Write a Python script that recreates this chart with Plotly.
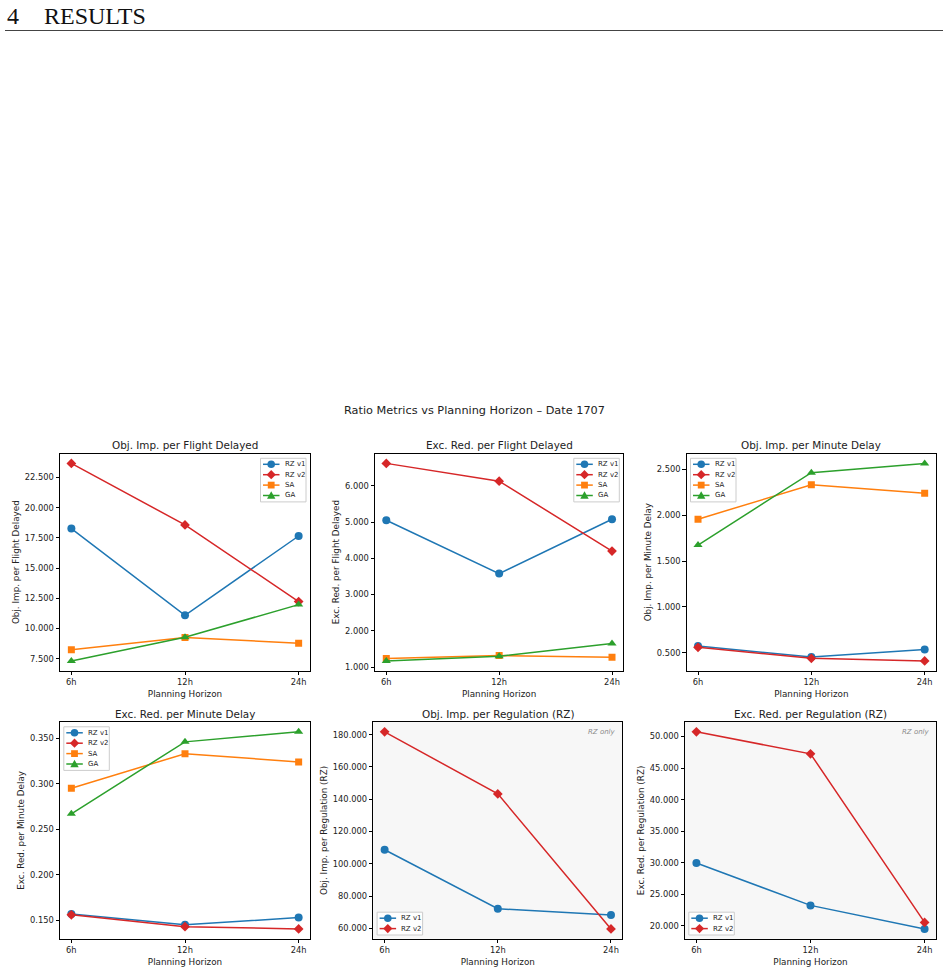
import plotly.graph_objects as go

W, H = 948, 972

# ---------------- data ----------------
horizons = ["6h", "12h", "24h"]

# Obj. Imp. per Flight Delayed
ofd_rz1 = [18.26, 11.08, 17.65]
ofd_rz2 = [23.66, 18.57, 12.22]
ofd_sa = [8.23, 9.25, 8.78]
ofd_ga = [7.31, 9.27, 11.97]

# Exc. Red. per Flight Delayed
efd_rz1 = [5.05, 3.58, 5.08]
efd_rz2 = [6.62, 6.13, 4.20]
efd_sa = [1.24, 1.32, 1.27]
efd_ga = [1.17, 1.30, 1.65]

# Obj. Imp. per Minute Delay
omd_rz1 = [0.573, 0.452, 0.536]
omd_rz2 = [0.558, 0.438, 0.410]
omd_sa = [1.957, 2.332, 2.241]
omd_ga = [1.675, 2.464, 2.566]

# Exc. Red. per Minute Delay
emd_rz1 = [0.157, 0.145, 0.153]
emd_rz2 = [0.156, 0.143, 0.1405]
emd_sa = [0.295, 0.333, 0.324]
emd_ga = [0.267, 0.346, 0.357]

# Obj. Imp. per Regulation (RZ)
oreg_rz1 = [108.7, 72.2, 68.3]
oreg_rz2 = [181.7, 143.3, 59.7]

# Exc. Red. per Regulation (RZ)
ereg_rz1 = [29.97, 23.26, 19.53]
ereg_rz2 = [50.74, 47.26, 20.57]

panel_titles = [
    "Obj. Imp. per Flight Delayed",
    "Exc. Red. per Flight Delayed",
    "Obj. Imp. per Minute Delay",
    "Exc. Red. per Minute Delay",
    "Obj. Imp. per Regulation (RZ)",
    "Exc. Red. per Regulation (RZ)",
]
panel_ylabels = panel_titles
panel_series = [
    [("RZ v1", ofd_rz1), ("RZ v2", ofd_rz2), ("SA", ofd_sa), ("GA", ofd_ga)],
    [("RZ v1", efd_rz1), ("RZ v2", efd_rz2), ("SA", efd_sa), ("GA", efd_ga)],
    [("RZ v1", omd_rz1), ("RZ v2", omd_rz2), ("SA", omd_sa), ("GA", omd_ga)],
    [("RZ v1", emd_rz1), ("RZ v2", emd_rz2), ("SA", emd_sa), ("GA", emd_ga)],
    [("RZ v1", oreg_rz1), ("RZ v2", oreg_rz2)],
    [("RZ v1", ereg_rz1), ("RZ v2", ereg_rz2)],
]
x_label = "Planning Horizon"
suptitle = "Ratio Metrics vs Planning Horizon \u2013 Date 1707"
rz_only_note = "RZ only"

# ---------------- styles / layout ----------------
styles = {
    "RZ v1": dict(color="#1f77b4", symbol="circle", size=8),
    "RZ v2": dict(color="#d62728", symbol="diamond", size=7.5),
    "SA": dict(color="#ff7f0e", symbol="square", size=7),
    "GA": dict(color="#2ca02c", symbol="triangle-up", size=8),
}
dticks = [2.5, 1, 0.5, 0.05, 20, 5]
legend_corner = ["ur", "ur", "ul", "ul", "ll", "ll"]
shaded = [False, False, False, False, True, True]
# axes boxes in pixels: left, right, top, bottom
boxes = [
    (60, 310, 453.5, 670.8),
    (375, 623.3, 453.5, 670.8),
    (686.7, 936, 453.5, 670.8),
    (60, 310, 722, 938.8),
    (373.3, 622.3, 722, 938.8),
    (685, 936, 722, 938.8),
]

FONT = "DejaVu Sans"
TXT = "#222222"


def px(x):
    return x / W


def py(y):
    return 1 - y / H


fig = go.Figure()
shapes = []
annotations = []
layout = {}

for i, series in enumerate(panel_series):
    n = "" if i == 0 else str(i + 1)
    xa, ya = "x" + n, "y" + n
    L, R, T, B = boxes[i]
    allv = [v for _, vals in series for v in vals]
    lo, hi = min(allv), max(allv)
    pad = 0.05 * (hi - lo)

    for name, vals in series:
        st = styles[name]
        fig.add_trace(go.Scatter(
            x=horizons, y=vals, mode="lines+markers", name=name,
            xaxis=xa, yaxis=ya, showlegend=False,
            line=dict(color=st["color"], width=1.5),
            marker=dict(symbol=st["symbol"], size=st["size"], color=st["color"]),
        ))

    axis_common = dict(
        showline=True, mirror=True, linecolor="black", linewidth=1,
        ticks="outside", ticklen=3.5, tickwidth=1, tickcolor="black",
        showgrid=False, zeroline=False,
        tickfont=dict(family=FONT, size=8.3, color=TXT),
    )
    layout["xaxis" + n] = dict(
        axis_common, domain=[px(L), px(R)], anchor=ya,
        type="category", range=[-0.1, 2.1],
        title=dict(text=x_label, font=dict(family=FONT, size=8.8, color=TXT), standoff=4),
    )
    layout["yaxis" + n] = dict(
        axis_common, domain=[py(B), py(T)], anchor=xa,
        range=[lo - pad, hi + pad], tick0=0, dtick=dticks[i], tickformat=".3f",
        title=dict(text=panel_ylabels[i], font=dict(family=FONT, size=8.8, color=TXT), standoff=3),
    )

    # subplot title
    annotations.append(dict(
        text=panel_titles[i], xref="paper", yref="paper", x=px((L + R) / 2), y=py(T - 8),
        xanchor="center", yanchor="middle", showarrow=False,
        font=dict(family=FONT, size=10.4, color=TXT),
    ))

    if shaded[i]:
        shapes.append(dict(type="rect", xref=xa + " domain", yref=ya + " domain",
                           x0=0, x1=1, y0=0, y1=1, fillcolor="#f7f7f7",
                           line=dict(width=0), layer="below"))
        annotations.append(dict(
            text="<i>" + rz_only_note + "</i>", xref="paper", yref="paper",
            x=px(R - 4), y=py(T + 10), xanchor="right", yanchor="middle", showarrow=False,
            font=dict(family=FONT, size=7, color="#8c8c8c"),
        ))

    # legend (matplotlib style, compact)
    nent = len(series)
    row = 10.4
    lw, lh = 45.5, nent * row + 2.0
    corner = legend_corner[i]
    lx = (R - 4 - lw) if corner[1] == "r" else (L + 3.8)
    ly = (T + 4.8) if corner[0] == "u" else (B - 3.8 - lh)
    shapes.append(dict(type="rect", xref="paper", yref="paper",
                       x0=px(lx), x1=px(lx + lw), y0=py(ly), y1=py(ly + lh),
                       fillcolor="rgba(255,255,255,0.85)", line=dict(color="#cccccc", width=1),
                       layer="above"))
    for k, (name, _) in enumerate(series):
        st = styles[name]
        cy = ly + 6 + k * row
        shapes.append(dict(type="line", xref="paper", yref="paper",
                           x0=px(lx + 2.5), x1=px(lx + 19), y0=py(cy), y1=py(cy),
                           line=dict(color=st["color"], width=1.5), layer="above"))
        cx = lx + 10.7
        c = st["color"]
        if st["symbol"] == "circle":
            r = 3.8
            shapes.append(dict(type="circle", xref="paper", yref="paper",
                               x0=px(cx - r), x1=px(cx + r), y0=py(cy + r), y1=py(cy - r),
                               fillcolor=c, line=dict(width=0), layer="above"))
        elif st["symbol"] == "square":
            r = 3.4
            shapes.append(dict(type="rect", xref="paper", yref="paper",
                               x0=px(cx - r), x1=px(cx + r), y0=py(cy + r), y1=py(cy - r),
                               fillcolor=c, line=dict(width=0), layer="above"))
        elif st["symbol"] == "diamond":
            a = 4.6
            pts = [(cx, cy - a), (cx + a, cy), (cx, cy + a), (cx - a, cy)]
            path = "M " + " L ".join(f"{px(x):.5f},{py(y):.5f}" for x, y in pts) + " Z"
            shapes.append(dict(type="path", xref="paper", yref="paper", path=path,
                               fillcolor=c, line=dict(width=0), layer="above"))
        else:
            a = 4.2
            pts = [(cx, cy - a), (cx + a, cy + a * 0.75), (cx - a, cy + a * 0.75)]
            path = "M " + " L ".join(f"{px(x):.5f},{py(y):.5f}" for x, y in pts) + " Z"
            shapes.append(dict(type="path", xref="paper", yref="paper", path=path,
                               fillcolor=c, line=dict(width=0), layer="above"))
        annotations.append(dict(
            text=name, xref="paper", yref="paper", x=px(lx + 22), y=py(cy),
            xanchor="left", yanchor="middle", showarrow=False,
            font=dict(family=FONT, size=7, color=TXT),
        ))

# figure suptitle
annotations.append(dict(text=suptitle, xref="paper", yref="paper", x=0.5, y=py(410),
                        xanchor="center", yanchor="middle", showarrow=False,
                        font=dict(family=FONT, size=11.3, color=TXT)))

# page header
annotations.append(dict(text="4", xref="paper", yref="paper", x=px(5), y=py(16),
                        xanchor="left", yanchor="middle", showarrow=False,
                        font=dict(family="Liberation Serif", size=24, color="#111111")))
annotations.append(dict(text="RESULTS", xref="paper", yref="paper", x=px(42), y=py(16),
                        xanchor="left", yanchor="middle", showarrow=False,
                        font=dict(family="Liberation Serif", size=24, color="#111111")))
shapes.append(dict(type="line", xref="paper", yref="paper", x0=px(5), x1=px(943),
                   y0=py(30.5), y1=py(30.5), line=dict(color="#444444", width=1)))

fig.update_layout(
    width=W, height=H, margin=dict(l=0, r=0, t=0, b=0),
    paper_bgcolor="white", plot_bgcolor="white",
    shapes=shapes, annotations=annotations, showlegend=False,
    **layout,
)

fig.write_html("out.html")
